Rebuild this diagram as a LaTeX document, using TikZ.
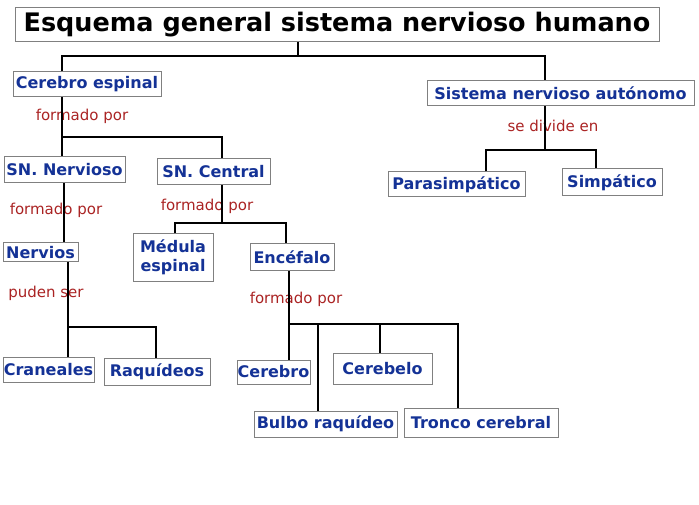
\documentclass[tikz,border=0pt]{standalone}
\usepackage{fontspec}
\setmainfont{DejaVu Sans}
\begin{document}
\begin{tikzpicture}[x=1pt,y=-1pt,
    box/.style={draw=gray,line width=1pt,fill=white,inner sep=0pt,align=center,
      font=\fontsize{16}{19}\selectfont\bfseries,text=concepto},
    etiqueta/.style={font=\fontsize{15}{17}\selectfont,text=enlace},
    rama/.style={line width=1.6pt,black}]
    % Define colors
    \definecolor{concepto}{RGB}{20,50,150}
    \definecolor{enlace}{RGB}{170,35,35}

    \useasboundingbox (0,0) rectangle (699,505);

    % Link labels
    \node[etiqueta] (lcer) at (82,116) {formado por};
    \node[etiqueta] (lsnn) at (56,210) {formado por};
    \node[etiqueta] (lsnc) at (207,206) {formado por};
    \node[etiqueta] (lner) at (46,293) {puden ser};
    \node[etiqueta] (lenc) at (296,299) {formado por};
    \node[etiqueta] (laut) at (553,126) {se divide en};

    % Junctions
    \coordinate (j0) at (298,56);  \coordinate (j0l) at (62,56);   \coordinate (j0r) at (545,56);
    \coordinate (j1) at (62,137);  \coordinate (j1r) at (222,137);
    \coordinate (j2) at (64,210);
    \coordinate (j3) at (222,223); \coordinate (j3l) at (175,223); \coordinate (j3r) at (286,223);
    \coordinate (j4) at (68,327);  \coordinate (j4r) at (156,327);
    \coordinate (j5) at (289,324); \coordinate (j5a) at (318,324);
    \coordinate (j5b) at (380,324); \coordinate (j5c) at (458,324);
    \coordinate (j6) at (545,150); \coordinate (j6l) at (486,150); \coordinate (j6r) at (596,150);

    % Boxes
    \node[box,minimum width=644pt,minimum height=34pt,font=\fontsize{25.5}{30}\selectfont\bfseries,text=black]
      (title) at (337,25) {Esquema general sistema nervioso humano};
    \node[box,minimum width=148pt,minimum height=25pt] (cer) at (87,84.5) {Cerebro espinal};
    \node[box,minimum width=267pt,minimum height=25pt] (aut) at (560.5,93.5) {Sistema nervioso autónomo};
    \node[box,minimum width=121pt,minimum height=26pt] (snn) at (64.5,170) {SN. Nervioso};
    \node[box,minimum width=113pt,minimum height=26pt] (snc) at (213.5,172) {SN. Central};
    \node[box,minimum width=137pt,minimum height=25pt] (par) at (456.5,184.5) {Parasimpático};
    \node[box,minimum width=100pt,minimum height=27pt] (sim) at (612,182.5) {Simpático};
    \node[box,minimum width=80pt,minimum height=47pt] (med) at (173,257.5) {Médula\\espinal};
    \node[box,minimum width=75pt,minimum height=19pt] (ner) at (40.5,252.5) {Nervios};
    \node[box,minimum width=84pt,minimum height=27pt] (enc) at (292,257.5) {Encéfalo};
    \node[box,minimum width=91pt,minimum height=25pt] (cra) at (48.5,369.5) {Craneales};
    \node[box,minimum width=106pt,minimum height=27pt] (raq) at (157,371.5) {Raquídeos};
    \node[box,minimum width=73pt,minimum height=24pt] (cbr) at (273.5,372) {Cerebro};
    \node[box,minimum width=99pt,minimum height=31pt] (cbl) at (382.5,368.5) {Cerebelo};
    \node[box,minimum width=143pt,minimum height=26pt] (bul) at (325.5,424) {Bulbo raquídeo};
    \node[box,minimum width=154pt,minimum height=29pt] (tro) at (481,422.5) {Tronco cerebral};

    % Branches
    \draw[rama] (title.south -| j0) -- (j0);
    \draw[rama] (j0l |- cer.north) -- (j0l) -- (j0r) -- (j0r |- aut.north);
    \draw[rama] (j1 |- cer.south) -- (j1) -- (j1r) -- (j1r |- snc.north);
    \draw[rama] (j1) -- (j1 |- snn.north);
    \draw[rama] (j2 |- snn.south) -- (j2 |- ner.north);
    \draw[rama] (j3 |- snc.south) -- (j3);
    \draw[rama] (j3l |- med.north) -- (j3l) -- (j3r) -- (j3r |- enc.north);
    \draw[rama] (j4 |- ner.south) -- (j4 |- cra.north);
    \draw[rama] (j4) -- (j4r) -- (j4r |- raq.north);
    \draw[rama] (j5 |- enc.south) -- (j5 |- cbr.north);
    \draw[rama] (j5) -- (j5c) -- (j5c |- tro.north);
    \draw[rama] (j5a) -- (j5a |- bul.north);
    \draw[rama] (j5b) -- (j5b |- cbl.north);
    \draw[rama] (j6 |- aut.south) -- (j6);
    \draw[rama] (j6l |- par.north) -- (j6l) -- (j6r) -- (j6r |- sim.north);
\end{tikzpicture}
\end{document}
